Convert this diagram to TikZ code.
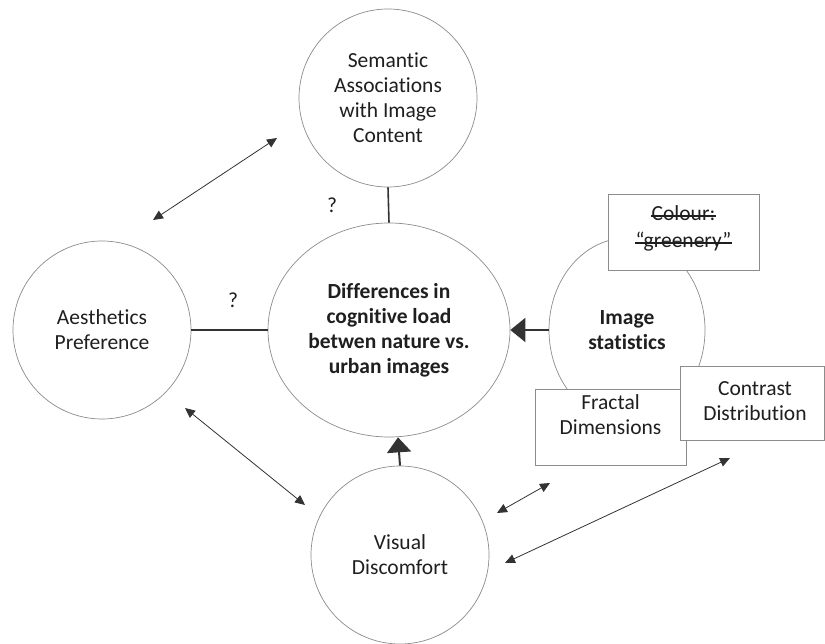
\documentclass[tikz,border=0pt]{standalone}
\usepackage{fontspec}
\setmainfont{Carlito}[Ligatures={NoCommon}]
\usetikzlibrary{arrows.meta,shapes.geometric,calc}
\definecolor{edgegray}{HTML}{8C8C8C}
\definecolor{linedark}{HTML}{333333}
\definecolor{txt}{HTML}{1F1F1F}
\begin{document}
\begin{tikzpicture}[x=1pt,y=-1pt,
  txtfont/.style={font=\fontsize{21.5}{25}\selectfont, text=txt},
  boldfont/.style={font=\fontsize{21.5}{25}\selectfont\bfseries, text=txt},
  bubble/.style={circle, draw=edgegray, line width=0.7pt, fill=white, inner sep=0pt, align=center, txtfont},
  oval/.style={ellipse, draw=edgegray, line width=0.7pt, fill=white, inner sep=0pt, align=center, boldfont},
  tagbox/.style={rectangle, draw=edgegray, line width=0.7pt, fill=white, inner sep=0pt},
  lbl/.style={align=center, txtfont, inner sep=0pt},
  struck/.style={txtfont, inner sep=0pt, text height=14pt, text depth=4pt},
  strike/.style={draw=txt, line width=1.1pt},
  link/.style={draw=linedark, line width=1.6pt},
  twoway/.style={draw=linedark, line width=0.8pt, {Triangle[length=10pt,width=9pt]}-{Triangle[length=10pt,width=9pt]}},
  bigarrow/.style={draw=linedark, line width=2pt, -{Triangle[length=15pt,width=24pt]}}
]
\useasboundingbox (0,0) rectangle (825,644);
\fill[white] (0,0) rectangle (825,644);

% main nodes
\node[bubble, minimum size=178pt] (sem) at (388,98) {Semantic\\Associations\\with Image\\Content};
\node[bubble, minimum size=178pt] (aes) at (102,330) {Aesthetics\\Preference};
\node[oval, minimum width=242pt, minimum height=214pt] (main) at (389,330) {Differences in\\cognitive load\\betwen nature vs.\\urban images};
\node[bubble, minimum size=178pt] (vd) at (400,555) {Visual\\Discomfort};
\node[oval, minimum width=156pt, minimum height=184pt] (stats) at (627,330) {Image\\statistics};

% attribute boxes
\node[tagbox, minimum width=151pt, minimum height=76pt] (colour) at (683.5,232) {};
\node[struck] (colourA) at (683.5,216) {Colour:};
\node[struck] (colourB) at (683.5,243) {“greenery”};
\draw[strike] (colourA.west) -- (colourA.east);
\draw[strike] (colourB.west) -- (colourB.east);
\node[tagbox, minimum width=151pt, minimum height=76pt] (fractal) at (610.5,427) {};
\node[lbl] (fractalT) at (610.5,415) {Fractal\\Dimensions};
\node[tagbox, minimum width=144pt, minimum height=74pt] (contrast) at (752,403) {};
\node[lbl] (contrastT) at (755,401) {Contrast\\Distribution};

% question marks
\node[lbl] (q1) at (332,205) {?};
\node[lbl] (q2) at (233,300) {?};

% plain links
\draw[link] (sem.south) -- (main.north);
\draw[link] (aes.east) -- (main.west);

% directed links
\draw[bigarrow] (stats.west) -- (stats.west -| main.east);
\draw[bigarrow] (vd.north) -- ($(main.south)+(9,0)$);

% two-way arrows
\coordinate (a1) at (153,220);
\coordinate (b1) at (277,138);
\coordinate (a2) at (185,408);
\coordinate (b2) at (305,505);
\coordinate (a3) at (497,513);
\coordinate (b3) at (550,483);
\coordinate (a4) at (505,563);
\coordinate (b4) at (730,458);
\draw[twoway] (a1) -- (b1);
\draw[twoway] (a2) -- (b2);
\draw[twoway] (a3) -- (b3);
\draw[twoway] (a4) -- (b4);
\end{tikzpicture}
\end{document}
